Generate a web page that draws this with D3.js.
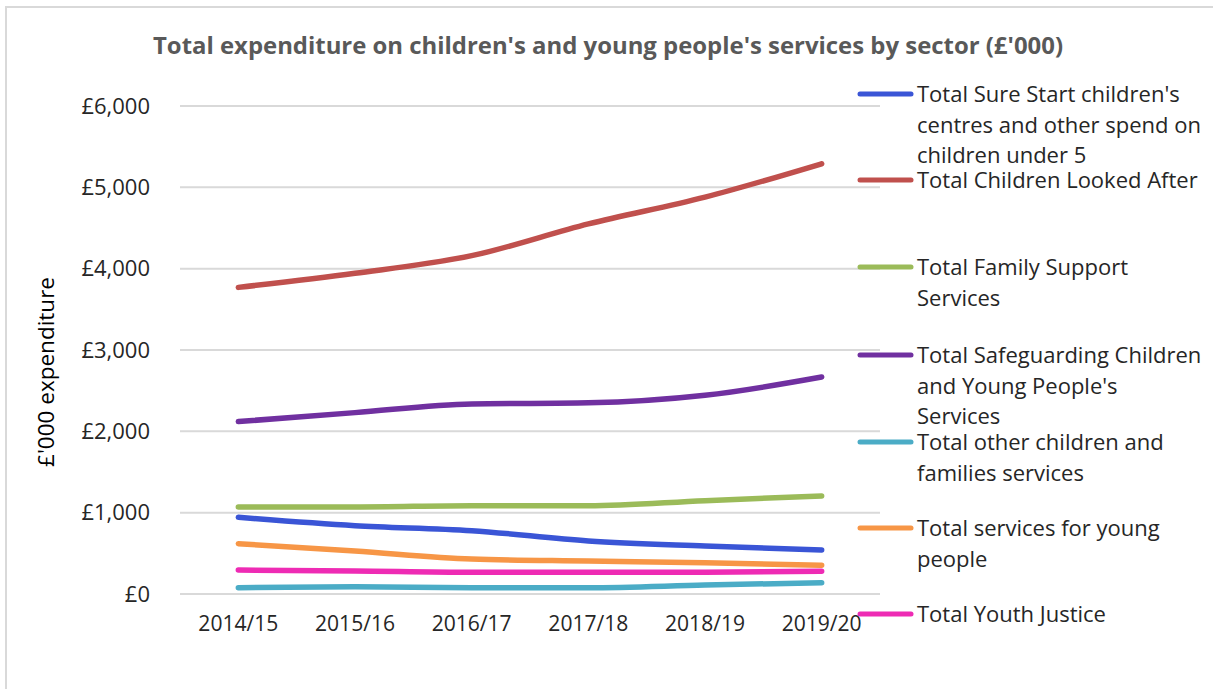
<!DOCTYPE html>
<html>
<head>
<meta charset="utf-8">
<script src="https://cdn.jsdelivr.net/npm/d3@7"></script>
<style>
  html, body { margin: 0; padding: 0; background: #fff; }
  svg { display: block; }
</style>
</head>
<body>
<svg id="chart" width="1213" height="689"></svg>
<script>
// Financial years on the x axis
const years = ["2014/15", "2015/16", "2016/17", "2017/18", "2018/19", "2019/20"];

// Expenditure per sector, £'000
const sureStart      = [943, 840, 779, 652, 590, 541];
const lookedAfter    = [3770, 3943, 4160, 4550, 4880, 5290];
const familySupport  = [1070, 1070, 1086, 1086, 1148, 1205];
const safeguarding   = [2120, 2230, 2336, 2350, 2443, 2668];
const otherFamilies  = [78, 90, 78, 78, 110, 139];
const youngPeople    = [619, 529, 430, 406, 385, 353];
const youthJustice   = [295, 283, 267, 267, 267, 279];

const seriesNames = [
  "Total Sure Start children's centres and other spend on children under 5",
  "Total Children Looked After",
  "Total Family Support Services",
  "Total Safeguarding Children and Young People's Services",
  "Total other children and families services",
  "Total services for young people",
  "Total Youth Justice"
];
const seriesColors = ["#3a55d6", "#c0504d", "#9bbb59", "#7030a0", "#4bacc6", "#f79646", "#ee2bb4"];
const seriesValues = [sureStart, lookedAfter, familySupport, safeguarding, otherFamilies, youngPeople, youthJustice];

const yTicks = [0, 1000, 2000, 3000, 4000, 5000, 6000];

const svg = d3.select("#chart");
const W = 1213, H = 689;

// Chart frame
svg.append("rect")
  .attr("x", 6).attr("y", 7)
  .attr("width", W + 20).attr("height", H + 20)
  .attr("fill", "#fff")
  .attr("stroke", "#d9d9d9").attr("stroke-width", 2);

const plot = { left: 180, right: 880, top: 106, bottom: 594 };

const x = d3.scaleBand().domain(years).range([plot.left, plot.right]);
const y = d3.scaleLinear().domain([0, 6000]).range([plot.bottom, plot.top]);

// Gridlines
svg.append("g")
  .selectAll("line")
  .data(yTicks)
  .join("line")
  .attr("x1", plot.left).attr("x2", plot.right)
  .attr("y1", d => y(d)).attr("y2", d => y(d))
  .attr("stroke", "#d9d9d9").attr("stroke-width", 2);

// Y axis labels
const fmt = d => "£" + d3.format(",")(d);
const yAxis = d3.axisLeft(y).tickValues(yTicks).tickFormat(fmt).tickSize(0).tickPadding(0);
const yG = svg.append("g").attr("transform", `translate(${plot.left - 30},0)`).call(yAxis);
yG.select(".domain").remove();
yG.selectAll("text")
  .attr("font-family", "'Open Sans', 'Noto Sans', sans-serif")
  .attr("font-size", 22)
  .attr("fill", "#262626");

// X axis labels
const xAxis = d3.axisBottom(x).tickSize(0).tickPadding(0);
const xG = svg.append("g").attr("transform", `translate(0,${plot.bottom + 21})`).call(xAxis);
xG.select(".domain").remove();
xG.selectAll("text")
  .attr("font-family", "'Liberation Sans Narrow', 'Open Sans', sans-serif")
  .attr("font-size", 22)
  .attr("fill", "#262626")
  .attr("textLength", 80)
  .attr("lengthAdjust", "spacingAndGlyphs");

// Y axis title
svg.append("text")
  .attr("transform", `translate(54,372) rotate(-90)`)
  .attr("text-anchor", "middle")
  .attr("font-family", "'Open Sans', 'Noto Sans', sans-serif")
  .attr("font-size", 22.5)
  .attr("fill", "#000")
  .text("£'000 expenditure");

// Title
svg.append("text")
  .attr("x", 608).attr("y", 54)
  .attr("text-anchor", "middle")
  .attr("font-family", "'Liberation Sans Narrow', 'Open Sans', sans-serif")
  .attr("font-weight", "bold")
  .attr("font-size", 24)
  .attr("fill", "#595959")
  .attr("textLength", 910)
  .attr("lengthAdjust", "spacingAndGlyphs")
  .text("Total expenditure on children's and young people's services by sector (£'000)");

// Series lines
const line = d3.line()
  .x((d, i) => x(years[i]) + x.bandwidth() / 2)
  .y(d => y(d))
  .curve(d3.curveMonotoneX);

svg.append("g")
  .selectAll("path")
  .data(seriesValues)
  .join("path")
  .attr("d", d => line(d))
  .attr("fill", "none")
  .attr("stroke", (d, i) => seriesColors[i])
  .attr("stroke-width", 5.5)
  .attr("stroke-linecap", "round")
  .attr("stroke-linejoin", "round");

// Legend: wrapped entries down the right side
const legendLines = [
  ["Total Sure Start children's", "centres and other spend on", "children under 5"],
  ["Total Children Looked After"],
  ["Total Family Support", "Services"],
  ["Total Safeguarding Children", "and Young People's", "Services"],
  ["Total other children and", "families services"],
  ["Total services for young", "people"],
  ["Total Youth Justice"]
];
const legendY = [94, 180, 267, 355, 442, 528, 614];
const leg = svg.append("g");
legendLines.forEach((lines, i) => {
  const g = leg.append("g").attr("transform", `translate(0,${legendY[i]})`);
  g.append("line")
    .attr("x1", 860).attr("x2", 911)
    .attr("y1", 0).attr("y2", 0)
    .attr("stroke", seriesColors[i]).attr("stroke-width", 5)
    .attr("stroke-linecap", "round");
  const t = g.append("text")
    .attr("font-family", "'Open Sans', 'Noto Sans', sans-serif")
    .attr("font-size", 22)
    .attr("fill", "#262626");
  lines.forEach((s, j) => {
    t.append("tspan").attr("x", 917).attr("y", j * 30.5 + 8).text(s);
  });
});
</script>
</body>
</html>
